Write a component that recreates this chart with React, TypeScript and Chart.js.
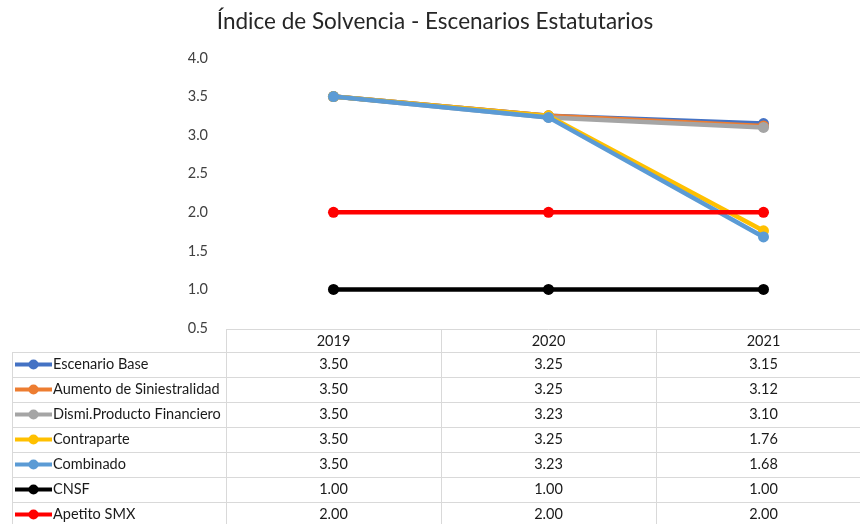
import { useEffect, useRef } from 'react';
import { Chart, registerables } from 'chart.js';

Chart.register(...registerables);

const FONT = 'Lato, "Open Sans", sans-serif';

const chartTitle = 'Índice de Solvencia - Escenarios Estatutarios';
const categories = ['2019', '2020', '2021'];

const escenarioBase = [3.5, 3.25, 3.15];
const aumentoSiniestralidad = [3.5, 3.25, 3.12];
const dismiProductoFinanciero = [3.5, 3.23, 3.1];
const contraparte = [3.5, 3.25, 1.76];
const combinado = [3.5, 3.23, 1.68];
const cnsf = [1.0, 1.0, 1.0];
const apetitoSMX = [2.0, 2.0, 2.0];

const seriesNames = [
  'Escenario Base',
  'Aumento de Siniestralidad',
  'Dismi.Producto Financiero',
  'Contraparte',
  'Combinado',
  'CNSF',
  'Apetito SMX',
];
const seriesValues = [
  escenarioBase,
  aumentoSiniestralidad,
  dismiProductoFinanciero,
  contraparte,
  combinado,
  cnsf,
  apetitoSMX,
];
const seriesColors = ['#4472C4', '#ED7D31', '#A5A5A5', '#FFC000', '#5B9BD5', '#000000', '#FF0000'];

const yMin = 0.5;
const yMax = 4.0;
const yStep = 0.5;

const tablePlugin = {
  id: 'dataTable',
  afterDraw(chart: any) {
    const ctx = chart.ctx as CanvasRenderingContext2D;
    const x = chart.scales.x;
    const area = chart.chartArea;
    const n = categories.length;
    const colW = (x.right - x.left) / n;
    const right = x.right;
    const headerTop = 329;
    const firstRowTop = 352;
    const rowH = 25;
    const tableLeft = 12;
    const bottom = firstRowTop + rowH * seriesNames.length;

    ctx.save();
    // title
    ctx.fillStyle = '#262626';
    ctx.font = `22.5px ${FONT}`;
    ctx.textAlign = 'center';
    ctx.textBaseline = 'middle';
    ctx.fillText(chartTitle, 435, 22);

    // grid
    ctx.strokeStyle = '#D9D9D9';
    ctx.lineWidth = 1;
    ctx.beginPath();
    ctx.moveTo(area.left, headerTop + 0.5);
    ctx.lineTo(right, headerTop + 0.5);
    for (let r = 0; r <= seriesNames.length; r++) {
      const yy = firstRowTop + r * rowH + 0.5;
      ctx.moveTo(tableLeft, yy);
      ctx.lineTo(right, yy);
    }
    ctx.moveTo(tableLeft + 0.5, firstRowTop);
    ctx.lineTo(tableLeft + 0.5, bottom);
    for (let c = 0; c <= n; c++) {
      const xx = Math.round(area.left + c * colW) + 0.5;
      ctx.moveTo(xx, headerTop);
      ctx.lineTo(xx, bottom);
    }
    ctx.stroke();

    // header
    ctx.fillStyle = '#1a1a1a';
    ctx.font = `14.5px ${FONT}`;
    ctx.textAlign = 'center';
    ctx.textBaseline = 'middle';
    categories.forEach((cat, c) => {
      ctx.fillText(cat, x.getPixelForValue(c), headerTop + 12);
    });

    // rows
    seriesNames.forEach((name, r) => {
      const cy = firstRowTop + r * rowH + 12.5;
      const color = seriesColors[r];
      ctx.strokeStyle = color;
      ctx.lineWidth = 4;
      ctx.beginPath();
      ctx.moveTo(15, cy);
      ctx.lineTo(52, cy);
      ctx.stroke();
      ctx.fillStyle = color;
      ctx.beginPath();
      ctx.arc(33.5, cy, 5, 0, Math.PI * 2);
      ctx.fill();

      ctx.fillStyle = '#1a1a1a';
      ctx.textAlign = 'left';
      ctx.fillText(name, 53, cy);
      ctx.textAlign = 'center';
      seriesValues[r].forEach((v, c) => {
        ctx.fillText(v.toFixed(2), x.getPixelForValue(c), cy);
      });
    });
    ctx.restore();
  },
};

export default function App() {
  const ref = useRef<HTMLCanvasElement>(null);

  useEffect(() => {
    const canvas = ref.current;
    if (!canvas) return;
    const datasets = seriesNames.map((name, i) => ({
      label: name,
      data: seriesValues[i],
      borderColor: seriesColors[i],
      backgroundColor: seriesColors[i],
      borderWidth: 4.5,
      pointRadius: 5.5,
      pointHoverRadius: 5.5,
      pointBorderWidth: 0,
      tension: 0,
      order: seriesNames.length - i,
    }));
    const chart = new Chart(canvas, {
      type: 'line',
      data: { labels: categories, datasets },
      options: {
        responsive: false,
        animation: false,
        devicePixelRatio: 1,
        layout: { padding: { top: 58, bottom: 196, left: 0, right: 9 } },
        plugins: {
          legend: { display: false },
          title: { display: false },
          tooltip: { enabled: false },
        },
        scales: {
          x: { display: false, offset: true },
          y: {
            min: yMin,
            max: yMax,
            ticks: {
              stepSize: yStep,
              padding: 18,
              color: '#404040',
              font: { family: FONT, size: 14.5 },
              callback: (v: any) => Number(v).toFixed(1),
            },
            grid: { display: false, drawTicks: false },
            border: { display: false },
            afterFit: (s: any) => {
              s.width = 226;
            },
          },
        },
      },
      plugins: [tablePlugin],
    } as any);
    return () => chart.destroy();
  }, []);

  return (
    <div
      style={{
        position: 'fixed',
        left: 0,
        top: 0,
        width: 860,
        height: 524,
        overflow: 'hidden',
        background: '#ffffff',
      }}
    >
      <canvas ref={ref} width={880} height={524} style={{ display: 'block', width: 880, height: 524 }} />
    </div>
  );
}
